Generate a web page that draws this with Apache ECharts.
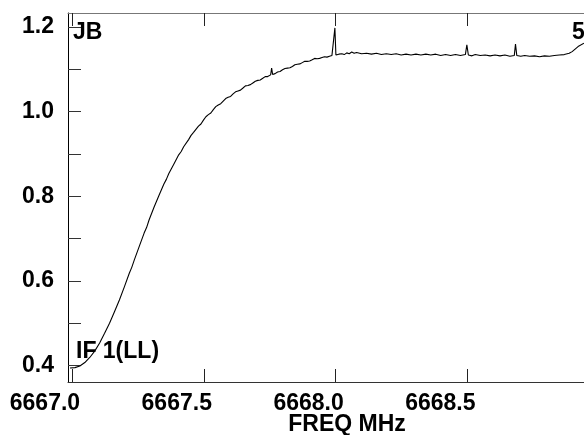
<!DOCTYPE html>
<html>
<head>
<meta charset="utf-8">
<script src="https://cdn.jsdelivr.net/npm/echarts@6/dist/echarts.min.js"></script>
<style>
html,body{margin:0;padding:0;background:#fff;}
#chart{width:584px;height:435px;}
</style>
</head>
<body>
<div id="chart"></div>
<script>
// Frequency (MHz) and flux values
var freq = [
6666.9925,6667.0113,6667.0300,6667.0488,6667.0675,6667.0863,6667.1050,6667.1238,6667.1425,6667.1613,
6667.1800,6667.1988,6667.2175,6667.2269,6667.2363,6667.2550,6667.2738,6667.2831,6667.2925,6667.3113,
6667.3300,6667.3488,6667.3581,6667.3675,6667.3863,6667.4050,6667.4144,6667.4238,6667.4425,6667.4519,
6667.4613,6667.4800,6667.4894,6667.4988,6667.5081,6667.5175,6667.5269,6667.5363,6667.5456,6667.5550,
6667.5644,6667.5738,6667.5831,6667.5925,6667.6019,6667.6113,6667.6206,6667.6300,6667.6394,6667.6488,
6667.6581,6667.6675,6667.6769,6667.6863,6667.6956,6667.7050,6667.7144,6667.7238,6667.7331,6667.7425,
6667.7538,6667.7575,6667.7613,6667.7706,6667.7800,6667.7894,6667.7988,6667.8081,6667.8175,6667.8269,
6667.8363,6667.8456,6667.8550,6667.8644,6667.8738,6667.8831,6667.8925,6667.9019,6667.9113,6667.9206,
6667.9300,6667.9394,6667.9488,6667.9581,6667.9675,6667.9769,6667.9863,6667.9938,6667.9975,6668.0013,
6668.0125,6668.0238,6668.0331,6668.0425,6668.0519,6668.0613,6668.0706,6668.0800,6668.0988,6668.1175,
6668.1363,6668.1550,6668.1738,6668.1925,6668.2113,6668.2300,6668.2488,6668.2675,6668.2863,6668.3050,
6668.3238,6668.3425,6668.3613,6668.3800,6668.3988,6668.4175,6668.4363,6668.4550,6668.4738,6668.4925,
6668.4981,6668.5038,6668.5175,6668.5300,6668.5488,6668.5675,6668.5863,6668.6050,6668.6238,6668.6425,
6668.6613,6668.6781,6668.6826,6668.6875,6668.7025,6668.7175,6668.7363,6668.7550,6668.7738,6668.7925,
6668.8113,6668.8300,6668.8488,6668.8675,6668.8863,6668.8975,6668.9088,6668.9200,6668.9425
];
var flux = [
0.394,0.395,0.399,0.407,0.419,0.434,0.453,0.476,0.500,0.527,
0.555,0.586,0.618,0.632,0.649,0.681,0.713,0.726,0.744,0.774,
0.802,0.829,0.840,0.854,0.876,0.898,0.906,0.917,0.934,0.944,
0.951,0.966,0.971,0.980,0.988,0.993,0.997,1.005,1.012,1.016,
1.019,1.025,1.031,1.034,1.036,1.042,1.047,1.049,1.051,1.056,
1.061,1.062,1.064,1.068,1.072,1.074,1.075,1.079,1.083,1.083,
1.087,1.103,1.088,1.090,1.094,1.095,1.099,1.102,1.103,1.104,
1.107,1.111,1.112,1.113,1.116,1.119,1.119,1.120,1.123,1.126,
1.125,1.126,1.128,1.130,1.129,1.131,1.133,1.134,1.198,1.134,
1.136,1.137,1.135,1.139,1.137,1.141,1.138,1.140,1.137,1.138,
1.136,1.138,1.135,1.137,1.135,1.137,1.134,1.136,1.134,1.136,
1.134,1.136,1.134,1.136,1.133,1.135,1.133,1.135,1.133,1.135,
1.158,1.134,1.132,1.135,1.133,1.134,1.132,1.134,1.132,1.134,
1.131,1.133,1.160,1.133,1.131,1.133,1.131,1.132,1.130,1.132,
1.131,1.133,1.134,1.135,1.138,1.142,1.148,1.154,1.162
];
var xTicks = [6667.0, 6667.5, 6668.0, 6668.5];
var yTicks = [0.4, 0.5, 0.6, 0.7, 0.8, 0.9, 1.0, 1.1, 1.2];
var yLabels = [0.4, 0.6, 0.8, 1.0, 1.2];
var xTitle = 'FREQ MHz';
var cornerLeft = 'JB';
var cornerRight = '5';
var polLabel = 'IF 1(LL)';

var FONT = '"Liberation Sans", Arial, sans-serif';
var data = freq.map(function (f, i) { return [f, flux[i]]; });

var chart = echarts.init(document.getElementById('chart'), null, {renderer: 'canvas'});
chart.setOption({
  animation: false,
  backgroundColor: '#fff',
  grid: {left: 68, top: 13, width: 522, height: 369, containLabel: false},
  xAxis: [{
    type: 'value', position: 'bottom', min: 6666.985, max: 6668.9425,
    axisLine: {show: true, lineStyle: {color: '#333', width: 1}},
    axisTick: {show: true, inside: true, length: 13, customValues: xTicks, lineStyle: {color: '#222'}},
    axisLabel: {
      show: true, customValues: xTicks, margin: 10,
      formatter: function (v) { return v.toFixed(1); },
      color: '#000', fontFamily: FONT, fontWeight: 'bold', fontSize: 23,
      padding: [0, 54, 0, 0]
    },
    splitLine: {show: false}
  }, {
    type: 'value', position: 'top', min: 6666.985, max: 6668.9425,
    axisLine: {show: true, onZero: false, lineStyle: {color: '#777', width: 1}},
    axisTick: {show: true, inside: true, length: 13, customValues: xTicks, lineStyle: {color: '#222'}},
    axisLabel: {show: false},
    splitLine: {show: false}
  }],
  yAxis: [{
    type: 'value', min: 0.361, max: 1.2333,
    axisLine: {show: true, lineStyle: {color: '#000', width: 1}},
    axisTick: {show: true, inside: true, length: 13, customValues: yTicks, lineStyle: {color: '#333'}},
    axisLabel: {
      show: true, customValues: yLabels, margin: 14,
      formatter: function (v) { return v.toFixed(1); },
      color: '#000', fontFamily: FONT, fontWeight: 'bold', fontSize: 23,
      padding: [9, 0, 0, 0]
    },
    splitLine: {show: false}
  }],
  series: [{
    type: 'line', xAxisIndex: 0, yAxisIndex: 0, data: data,
    showSymbol: false, symbol: 'none', clip: true,
    lineStyle: {color: '#000', width: 1.1}
  }],
  graphic: [
    {type: 'text', left: 73, top: 21, z: 100,
     style: {text: cornerLeft, fill: '#000', font: 'bold 23px ' + FONT}},
    {type: 'text', left: 572, top: 21, z: 100,
     style: {text: cornerRight, fill: '#000', font: 'bold 23px ' + FONT}},
    {type: 'text', left: 76, top: 340, z: 100,
     style: {text: polLabel, fill: '#000', font: 'bold 23px ' + FONT}},
    {type: 'text', x: 347, y: 425, z: 100,
     style: {text: xTitle, fill: '#000', font: 'bold 23px ' + FONT, align: 'center', verticalAlign: 'middle'}}
  ]
});
</script>
</body>
</html>
